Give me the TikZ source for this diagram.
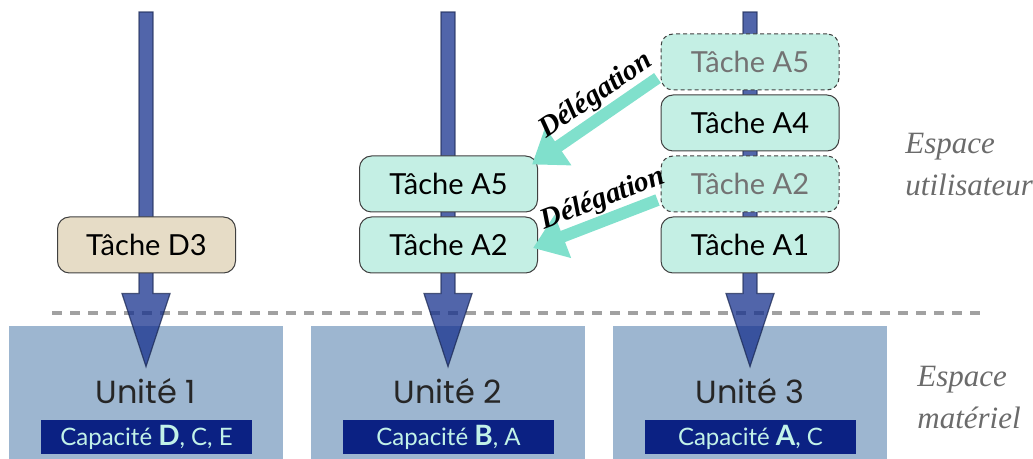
\documentclass[tikz,border=0pt]{standalone}
\usepackage{fontspec}
\setsansfont{Lato}
\newfontfamily\unitfont{Poppins}
\newfontfamily\delegfont{Liberation Serif}
\usepackage{tikz}
\usetikzlibrary{arrows.meta, positioning, calc}

\definecolor{taskfill}{HTML}{C4EFE4}
\definecolor{taskbeige}{HTML}{E6DCC6}
\definecolor{unitfill}{HTML}{9DB6D0}
\definecolor{capfill}{HTML}{0B2183}
\definecolor{captext}{HTML}{C2F2E8}
\definecolor{shaftblue}{HTML}{17318E}
\definecolor{shaftline}{HTML}{1C2A55}
\definecolor{delegteal}{HTML}{80E0CC}

% block arrow from a top coordinate down to a tip coordinate
\newcommand\blockarrow[2]{%
  \draw[blk] ($(#1)+(-7,0)$) -- ($(#2)+(-7,-73)$) -- ($(#2)+(-24,-73)$) -- (#2)
    -- ($(#2)+(24,-73)$) -- ($(#2)+(7,-73)$) -- ($(#1)+(7,0)$) -- cycle;}

\begin{document}
\begin{tikzpicture}[
    x=0.5pt, y=-0.5pt,
    node distance=2pt,
    task/.style={rectangle, rounded corners=6pt, draw=black!75, line width=0.5pt, fill=taskfill, minimum width=89pt, minimum height=28pt, inner sep=0pt, font=\sffamily\fontsize{14.5}{16}\selectfont},
    ghost/.style={task, dash pattern=on 2pt off 1.5pt, text=black!55},
    unit/.style={rectangle, fill=unitfill, minimum width=137pt, minimum height=66.5pt, inner sep=0pt},
    unitlbl/.style={font=\unitfont\fontsize{16}{18}\selectfont, text=black!85, inner sep=0pt},
    capbar/.style={rectangle, fill=capfill, text=captext, minimum width=105.5pt, minimum height=17pt, inner sep=0pt, font=\sffamily\fontsize{12}{14}\selectfont},
    blk/.style={fill=shaftblue, draw=shaftline, line width=0.6pt, opacity=0.75},
    sep/.style={draw=black!37, line width=2pt, dash pattern=on 5pt off 4pt},
    deleg/.style={draw=delegteal, line width=6pt, -{Triangle[width=22pt,length=16pt]}},
    deleglbl/.style={font=\delegfont\bfseries\itshape\fontsize{14.5}{15}\selectfont, inner sep=0.5pt},
    side/.style={font=\delegfont\itshape\fontsize{15.5}{21}\selectfont, text=black!58, align=left, inner sep=0pt, anchor=north west}
]
\useasboundingbox (0,0) rectangle (1033,459);

% hardware units
\node[unit] (unit1) at (146,392.5) {};
\node[unit] (unit2) at (448,392.5) {};
\node[unit] (unit3) at (750,392.5) {};
\node[unitlbl] (u1lbl) at (146,391) {Unité 1};
\node[unitlbl] (u2lbl) at (448,391) {Unité 2};
\node[unitlbl] (u3lbl) at (750,391) {Unité 3};
\node[capbar] (cap1) at (146.5,437) {Capacité {\fontsize{14}{14}\selectfont\bfseries D}, C, E};
\node[capbar] (cap2) at (448.5,437) {Capacité {\fontsize{14}{14}\selectfont\bfseries B}, A};
\node[capbar] (cap3) at (750.5,437) {Capacité {\fontsize{14}{14}\selectfont\bfseries A}, C};

% user / hardware boundary
\draw[sep] (52,313) -- (980,313);

% execution flows
\coordinate (top1) at (146,12);
\coordinate (top2) at (448,12);
\coordinate (top3) at (750,12);
\coordinate (tip1) at ([yshift=-20.5pt]unit1.north);
\coordinate (tip2) at ([yshift=-20.5pt]unit2.north);
\coordinate (tip3) at ([yshift=-20.5pt]unit3.north);
\blockarrow{top1}{tip1}
\blockarrow{top2}{tip2}
\blockarrow{top3}{tip3}

% tasks
\node[task, fill=taskbeige] (d3) at (146.5,245) {Tâche D3};

\node[task] (mA2) at (448.5,245) {Tâche A2};
\node[task, above=of mA2] (mA5) {Tâche A5};

\node[task] (rA1) at (750,245) {Tâche A1};
\node[ghost, above=of rA1] (rA2) {Tâche A2};
\node[task, above=of rA2] (rA4) {Tâche A4};
\node[ghost, above=of rA4] (rA5) {Tâche A5};

% delegations
\draw[deleg] ([xshift=-1.5pt,yshift=-8pt]rA5.west) -- ([xshift=-3pt,yshift=-4.5pt]mA5.north east)
    node[pos=0.4, sloped, above, deleglbl] {Délégation};
\draw[deleg] ([xshift=-1.5pt,yshift=-8pt]rA2.west) -- ([xshift=-2.5pt,yshift=-1.5pt]mA2.east)
    node[pos=0.38, sloped, above, deleglbl] {Délégation};

% spaces
\node[side] (user) at (905,133) {Espace\\utilisateur};
\node[side] (hw) at (917,366) {Espace\\matériel};

\end{tikzpicture}
\end{document}
